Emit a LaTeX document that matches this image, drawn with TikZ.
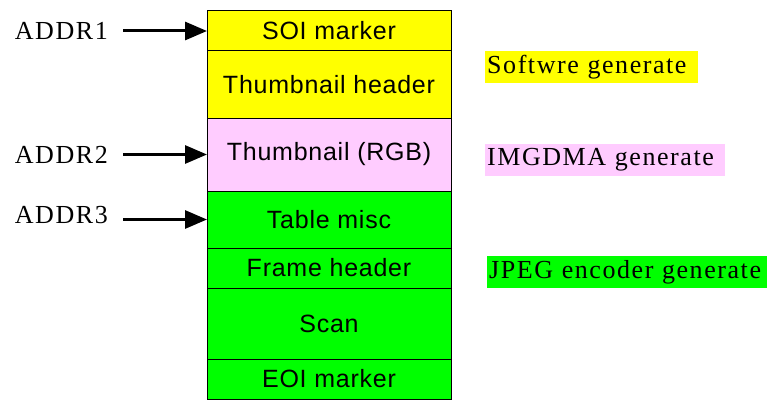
\documentclass[tikz,border=0pt]{standalone}
\usepackage{fontspec}
\usepackage{xcolor}
\usetikzlibrary{shapes,arrows.meta,positioning}
\newfontfamily\boxfont{Liberation Sans}[LetterSpace=3]
\newfontfamily\labfont{Liberation Serif}[LetterSpace=6]
\definecolor{swyellow}{RGB}{255,255,0}
\definecolor{dmapink}{RGB}{255,204,255}
\definecolor{jpggreen}{RGB}{0,255,0}

\begin{document}
\begin{tikzpicture}[x=1pt, y=-1pt, node distance=0pt,
    seg/.style={rectangle, draw, line width=1pt, outer sep=0pt, inner sep=0pt, minimum width=244pt, minimum height=#1, font=\boxfont\fontsize{25}{30}\selectfont},
    addr/.style={inner sep=0pt, font=\labfont\fontsize{26}{31}\selectfont},
    gen/.style={fill=#1, anchor=west, inner xsep=2pt, inner ysep=0pt, minimum height=32pt, align=left, font=\labfont\fontsize{26}{31}\selectfont},
    ptr/.style={-{Triangle[length=22pt,width=18pt]}, line width=3pt, shorten <=15pt}]
    \useasboundingbox (0,0) rectangle (767,401);

    % memory layout
    \node [seg=40pt, fill=swyellow] at (329,31) (soi) {SOI marker};
    \node [seg=67pt, fill=swyellow, below=of soi] (thhdr) {Thumbnail header};
    \node [seg=73pt, fill=dmapink, below=of thhdr] (thrgb) {Thumbnail (RGB)};
    \node [seg=57pt, fill=jpggreen, below=of thrgb] (tbl) {Table misc};
    \node [seg=40pt, fill=jpggreen, below=of tbl] (frm) {Frame header};
    \node [seg=71pt, fill=jpggreen, below=of frm] (scan) {Scan};
    \node [seg=40pt, fill=jpggreen, below=of scan] (eoi) {EOI marker};

    % start addresses
    \node [addr, left=99pt of soi] (addr1) {ADDR1};
    \node [addr, left=99pt of thrgb] (addr2) {ADDR2};
    \node [addr, left=99pt of tbl, yshift=4pt] (addr3) {ADDR3};

    \draw [ptr] (addr1.east) -- (soi.west);
    \draw [ptr] (addr2.east) -- (thrgb.west);
    \draw [ptr] (addr3.east |- tbl.west) -- (tbl.west);

    % who writes what
    \node [gen=swyellow, text width=209pt] at (485,67) (swgen) {Softwre generate};
    \node [gen=dmapink, text width=236pt] at (485,160) (dmagen) {IMGDMA generate};
    \node [gen=jpggreen, text width=276pt] at (487,272) (jpggen) {JPEG encoder generate};
\end{tikzpicture}
\end{document}
